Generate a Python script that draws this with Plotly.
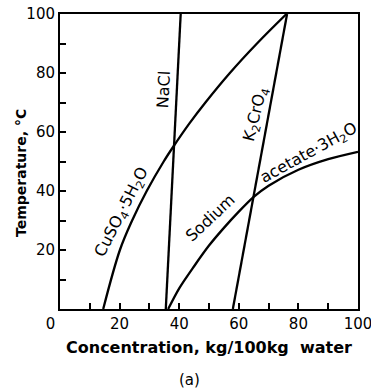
import plotly.graph_objects as go

# ---- data ----
nacl_conc = [35.5, 40.5]
nacl_temp = [0, 100]

cuso4_conc = [14.5, 20.1, 24.2, 29.1, 34.8, 38.0, 43.5, 48.8, 57.0, 66.1, 76.0]
cuso4_temp = [0, 20, 30, 40, 50, 55, 63, 70, 80, 90, 100]

k2cro4_conc = [58.0, 76.2]
k2cro4_temp = [0, 100]

naac_conc = [36.3, 40.0, 45.0, 50.0, 55.0, 60.0, 65.0, 70.0, 80.0, 90.0, 100.0]
naac_temp = [0, 7.0, 14.5, 21.5, 27.5, 33.0, 38.0, 41.8, 47.2, 50.8, 53.3]

x_tickvals = [0, 10, 20, 30, 40, 50, 60, 70, 80, 90, 100]
x_ticktext = ["0\u00a0\u00a0\u00a0\u00a0", "", "20", "", "40", "", "60", "", "80", "", "100"]
y_tickvals = [0, 10, 20, 30, 40, 50, 60, 70, 80, 90, 100]
y_ticktext = ["", "", "20", "", "40", "", "60", "", "80", "", "100"]

FONT = "DejaVu Sans"
line = dict(color="black", width=2.3)

fig = go.Figure()
fig.add_trace(go.Scatter(x=nacl_conc, y=nacl_temp, mode="lines", line=line))
fig.add_trace(go.Scatter(x=cuso4_conc, y=cuso4_temp, mode="lines",
                         line=dict(color="black", width=2.3, shape="spline", smoothing=1.0)))
fig.add_trace(go.Scatter(x=k2cro4_conc, y=k2cro4_temp, mode="lines", line=line))
fig.add_trace(go.Scatter(x=naac_conc, y=naac_temp, mode="lines",
                         line=dict(color="black", width=2.3, shape="spline", smoothing=0.8)))

lab_font = dict(family=FONT, size=16, color="black")
labels = [
    ("NaCl", 34.6, 74.2, -87),
    ("CuSO<sub>4</sub>·5H<sub>2</sub>O", 20.7, 32.7, -63),
    ("K<sub>2</sub>CrO<sub>4</sub>", 65.8, 65.8, -76),
    ("Sodium", 50.5, 31.0, -43),
    ("acetate·3H<sub>2</sub>O", 83.4, 52.8, -29),
]
for txt, xx, yy, ang in labels:
    fig.add_annotation(x=xx, y=yy, xref="x", yref="y", text=txt, textangle=ang,
                       showarrow=False, font=lab_font, xanchor="center", yanchor="middle")

fig.add_annotation(xref="paper", yref="paper", x=0, y=0.461, xshift=-39,
                   text="<b>Temperature, °C</b>", textangle=-90, showarrow=False,
                   font=dict(family=FONT, size=14, color="black"),
                   xanchor="center", yanchor="middle")
fig.add_annotation(xref="paper", yref="paper", x=0.5, y=-0.129,
                   text="<b>Concentration, kg/100kg  water</b>", showarrow=False,
                   font=dict(family=FONT, size=16, color="black"),
                   xanchor="center", yanchor="middle")
fig.add_annotation(xref="paper", yref="paper", x=0.436, y=-0.241,
                   text="(a)", showarrow=False,
                   font=dict(family=FONT, size=15, color="black"),
                   xanchor="center", yanchor="middle")

axis_common = dict(showgrid=False, zeroline=False, showline=True, linecolor="black",
                   linewidth=2, mirror=True, ticks="inside", ticklen=6, tickwidth=1.5,
                   tickcolor="black", automargin=False, ticklabeloverflow="allow",
                   tickfont=dict(family=FONT, size=15, color="black"))
fig.update_xaxes(range=[0, 100], tickmode="array", tickvals=x_tickvals,
                 ticktext=x_ticktext, **axis_common)
fig.update_yaxes(range=[0, 100], tickmode="array", tickvals=y_tickvals,
                 ticktext=y_ticktext, **axis_common)

fig.update_layout(width=371, height=389, margin=dict(l=60, r=13, t=14, b=80),
                  paper_bgcolor="white", plot_bgcolor="white", showlegend=False)

fig.write_html("out.html")
